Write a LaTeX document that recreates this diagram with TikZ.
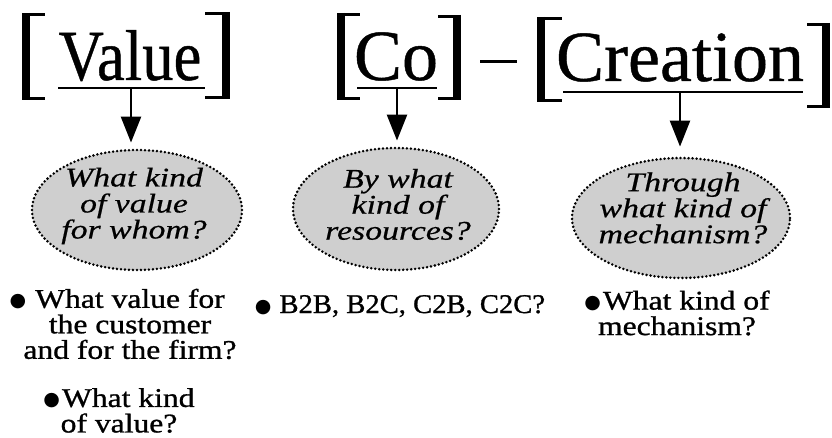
\documentclass[tikz,border=0pt]{standalone}
\usepackage{fontspec}
\usepackage{graphicx}
\setmainfont{Liberation Serif}
\newfontfamily\titlefont[FakeBold=0.6]{Liberation Serif}
\newfontfamily\bodyfont[FakeStretch=1.17,FakeBold=1]{Liberation Serif}
\newfontfamily\bodyfontb[FakeStretch=1.06,FakeBold=1]{Liberation Serif}
\newfontfamily\ellfont[FakeStretch=1.25,FakeBold=0.6]{Liberation Serif}
\newfontfamily\symfont{DejaVu Sans}
\usetikzlibrary{arrows.meta,shapes.geometric}
\newcommand\mybul{\raisebox{1pt}{\symfont\fontsize{19}{19}\selectfont ●}}
\begin{document}
\begin{tikzpicture}[x=1pt,y=-1pt,
  title/.style={font=\titlefont\fontsize{72}{72}\selectfont, inner sep=0pt, anchor=base},
  bubble/.style={ellipse, fill=gray!38, draw=black, line width=2.8pt, dash pattern=on 0pt off 4pt, line cap=round, inner sep=0pt},
  etext/.style={font=\ellfont\itshape\fontsize{27}{26}\selectfont, align=center, inner sep=0pt},
  btext/.style={font=\bodyfont\fontsize{27}{25.5}\selectfont, align=center, inner sep=0pt},
  under/.style={line width=2.5pt},
  arr/.style={line width=2.5pt, -{Triangle[width=20pt,length=26pt]}},
  brv/.style={line width=8.5pt},
  brh/.style={line width=3.5pt}]
\useasboundingbox (0,0) rectangle (832,438);

% titles
\node[title] (value) at (130,80) {\scalebox{0.87}[1]{Value}};
\node[title] (co) at (396,80) {Co};
\node[title] (creation) at (680,81) {Creation};

% brackets
\draw[brv] (26,13) -- (26,100);
\draw[brh] (22,14.5) -- (45,14.5) (22,98.5) -- (45,98.5);
\draw[brv] (226,12) -- (226,99);
\draw[brh] (205,13.5) -- (230,13.5) (205,97.5) -- (230,97.5);

\draw[brv] (341,13) -- (341,100);
\draw[brh] (337,14.5) -- (360,14.5) (337,98.5) -- (360,98.5);
\draw[brv] (457,15) -- (457,100);
\draw[brh] (438,16.5) -- (461,16.5) (438,98.5) -- (461,98.5);

\draw[line width=3pt] (480,62) -- (517,62);

\draw[brv] (541,17) -- (541,102);
\draw[brh] (537,18.5) -- (562,18.5) (537,100.5) -- (562,100.5);
\draw[brv] (826,23) -- (826,108);
\draw[brh] (807,24.5) -- (830,24.5) (807,106.5) -- (830,106.5);

% underlines
\draw[under] (58,88) -- (205,88);
\draw[under] (357,88) -- (437,88);
\draw[under] (563,92) -- (803,92);
\coordinate (vu) at (131,88);
\coordinate (cu) at (397,88);
\coordinate (cru) at (680,92);

% ellipses
\node[bubble, minimum width=210pt, minimum height=120pt] (e1) at (137,210) {};
\node[bubble, minimum width=206pt, minimum height=122pt] (e2) at (396,209) {};
\node[bubble, minimum width=218pt, minimum height=120pt] (e3) at (681,218) {};
\node[etext] (e1t) at (134,206) {What kind\\of value\\for whom?};
\node[etext] (e2t) at (398,204.5) {By what\\kind of\\resources?};
\node[etext] (e3t) at (683,208) {Through\\what kind of\\mechanism?};

% arrows
\draw[arr, shorten >=6pt] (vu) -- (vu |- e1.north);
\draw[arr, shorten >=6pt] (cu) -- (cu |- e2.north);
\draw[arr, shorten >=10pt] (cru) -- (cru |- e3.north);

% bullet texts
\node[btext] (b1) at (130,324) {\llap{\mybul\hspace{9pt}}What value for\\the customer\\and for the firm?};
\node[btext] (b2) at (119,410.5) {\mybul\hspace{2pt}What kind\\of value?};
\node[btext, font=\bodyfontb\fontsize{27}{25.5}\selectfont, anchor=base] (b3) at (400,313) {\mybul\hspace{8pt}B2B, B2C, C2B, C2C?};
\node[btext] (b4) at (677,313) {\mybul\hspace{2pt}What kind of\\mechanism?};
\end{tikzpicture}
\end{document}
